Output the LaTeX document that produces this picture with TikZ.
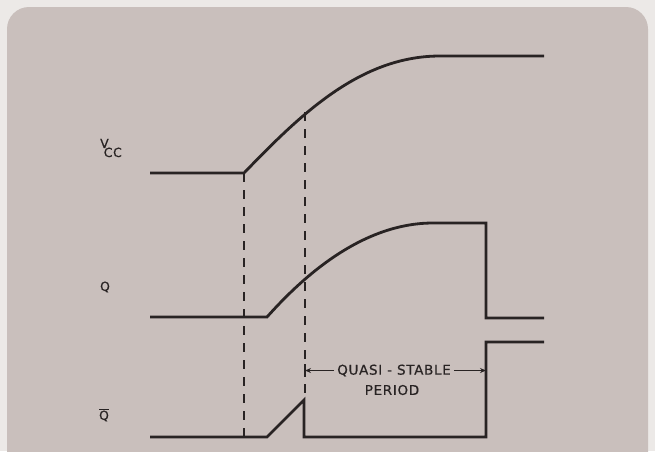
\documentclass[tikz,border=0pt]{standalone}
\usepackage{fontspec}
\setmainfont{DejaVu Sans}
\newfontfamily\lblfont[LetterSpace=5,FakeBold=0.6]{DejaVu Sans}
\usetikzlibrary{arrows.meta}
\definecolor{outerbg}{RGB}{236,233,231}
\definecolor{innerbg}{RGB}{201,191,188}
\definecolor{ink}{RGB}{40,35,35}
\tikzset{
  wave/.style={draw=ink, line width=2.8pt, line join=miter},
  guide/.style={draw=ink, line width=1.4pt, dash pattern=on 9pt off 8pt},
  lbl/.style={text=ink, font=\fontsize{12.5}{14}\selectfont\lblfont, inner sep=0pt},
  note/.style={text=ink, font=\fontsize{13.5}{15}\selectfont\lblfont, inner sep=0pt, align=center},
  dim/.style={draw=ink, line width=1.4pt, -{Stealth[length=6pt,width=5pt]}}
}
\begin{document}
\begin{tikzpicture}[x=1pt,y=-1pt]
\useasboundingbox (0,0) rectangle (655,451);
\fill[outerbg] (0,0) rectangle (655,451);
\begin{scope}
\clip (0,0) rectangle (655,451);
\fill[innerbg, rounded corners=22pt] (7,7) rectangle (648,480);
\end{scope}
% coordinates
\coordinate (v0) at (150,173);
\coordinate (v1) at (244,173);
\coordinate (v2) at (440,56);
\coordinate (v3) at (544,56);
\coordinate (q0) at (150,317);
\coordinate (q1) at (267,317);
\coordinate (q2) at (433,223);
\coordinate (q3) at (486,223);
\coordinate (q4) at (486,318);
\coordinate (q5) at (544,318);
\coordinate (n0) at (150,437);
\coordinate (n1) at (267,437);
\coordinate (n2) at (304,400);
\coordinate (n3) at (304,437);
\coordinate (n4) at (486,437);
\coordinate (n5) at (486,342);
\coordinate (n6) at (544,342);
\coordinate (d1top) at (244,173);
\coordinate (d1bot) at (244,437);
\coordinate (d2top) at (305,112);
\coordinate (d2bot) at (305,400);
% guides
\draw[guide] (d1top) -- (d1bot);
\draw[guide] (d2top) -- (d2bot);
% waves
\draw[wave] (v0) -- (v1) .. controls (300,115) and (360,56) .. (v2) -- (v3);
\draw[wave] (q0) -- (q1) .. controls (300,280) and (360,223) .. (q2) -- (q3) -- (q4) -- (q5);
\draw[wave] (n0) -- (n1) -- (n2) -- (n3) -- (n4) -- (n5) -- (n6);
% labels
\node[lbl] (vcc) at (111,148) {\raisebox{5pt}{V}\kern-5pt\raisebox{-4pt}{CC}};
\node[lbl] (qlbl) at (105,287) {Q};
\node[lbl] (qbar) at (104,415) {$\overline{\mbox{Q}}$};
% quasi-stable period
\node[note] (qs) at (394,370.5) {QUASI - STABLE};
\node[note] (per) at (392,390) {PERIOD};
\coordinate (tickt) at (305,364);
\coordinate (tickb) at (305,377);
\draw[ink, line width=1.4pt] (tickt) -- (tickb);
\coordinate (al) at (305,370.5);
\coordinate (ar) at (486,370.5);
\draw[dim] (qs.west) ++(-3,0) -- (al);
\draw[dim] (qs.east) ++(3,0) -- (ar);
\end{tikzpicture}
\end{document}
